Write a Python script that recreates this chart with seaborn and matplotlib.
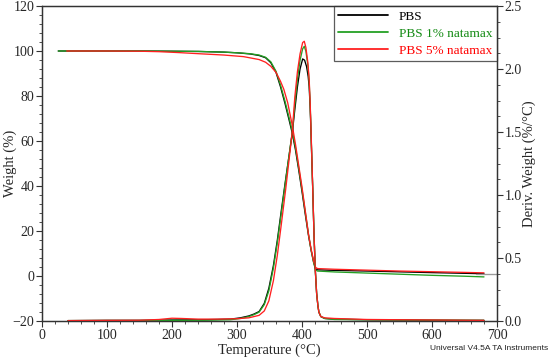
import numpy as np
import pandas as pd
import matplotlib
matplotlib.use("Agg")
import matplotlib.pyplot as plt
from matplotlib.ticker import MultipleLocator, FormatStrFormatter
from matplotlib.lines import Line2D
import seaborn as sns

# ---------------- data ----------------
labels = ["PBS", "PBS 1% natamax", "PBS 5% natamax"]

# Weight (%) curves
T_w_black = [25, 50, 100, 150, 200, 241, 280, 300, 320, 334, 344, 352, 360, 367, 374, 380, 385, 390, 395,
             400, 405, 410, 414, 418, 421, 424, 450, 500, 550, 600, 650, 680]
W_black = [100, 100, 100, 100, 99.9, 99.8, 99.5, 99.2, 98.7, 98.0, 97.0, 94.8, 90.5, 84.0, 76.5, 69.5, 63.5,
           56.0, 47.0, 37.5, 27.5, 18.0, 11.5, 6.0, 3.2, 2.75, 2.5, 2.2, 1.85, 1.5, 1.2, 1.0]

T_w_green = [25, 50, 100, 150, 200, 241, 280, 300, 320, 334, 344, 352, 360, 367, 374, 380, 385, 390, 395,
             400, 405, 410, 414, 418, 421, 424, 450, 500, 550, 600, 650, 680]
W_green = [100, 100, 100, 100, 99.9, 99.8, 99.5, 99.2, 98.8, 98.2, 97.2, 95.2, 91.0, 84.8, 77.5, 70.5, 64.5,
           57.0, 48.0, 38.5, 28.5, 18.5, 11.5, 5.8, 2.6, 2.2, 1.8, 1.3, 0.8, 0.3, -0.1, -0.4]

T_w_red = [38, 60, 100, 150, 180, 210, 241, 280, 310, 334, 344, 352, 360, 367, 372, 378, 385, 390, 395,
           400, 405, 410, 414, 418, 421, 424, 450, 500, 550, 600, 650, 680]
W_red = [100, 100, 100, 99.9, 99.7, 99.3, 98.8, 98.2, 97.5, 96.2, 95.0, 93.2, 90.5, 86.5, 83.0, 77.0, 67.0,
         58.5, 49.0, 39.5, 29.0, 18.5, 12.0, 6.5, 3.8, 3.3, 3.0, 2.6, 2.2, 1.9, 1.6, 1.4]

# Derivative weight (%/°C) curves
T_d_black = [40, 100, 150, 200, 250, 290, 305, 318, 326, 334, 342, 349, 356, 362, 368, 375, 385, 389, 393,
             397, 401, 404, 407, 409.5, 411, 412.5, 413.5, 415, 416.5, 418.5, 420.5, 422.5, 424.5, 426, 429,
             435, 450, 500, 550, 600, 650, 680]
D_black = [0.003, 0.005, 0.005, 0.008, 0.01, 0.015, 0.025, 0.04, 0.055, 0.075, 0.14, 0.26, 0.44, 0.64, 0.87,
           1.13, 1.49, 1.68, 1.86, 2.0, 2.08, 2.07, 2.02, 1.94, 1.86, 1.7, 1.55, 1.3, 1.05, 0.68, 0.4, 0.22,
           0.12, 0.07, 0.035, 0.02, 0.015, 0.01, 0.008, 0.006, 0.005, 0.005]

T_d_green = [40, 100, 150, 200, 250, 290, 305, 318, 326, 334, 342, 349, 356, 362, 368, 375, 385, 389, 393,
             397, 401, 403.5, 406, 409, 411, 412.5, 413.5, 415, 416.5, 418.5, 420.5, 422.5, 424.5, 426, 429,
             435, 450, 500, 550, 600, 650, 680]
D_green = [0.003, 0.004, 0.004, 0.005, 0.006, 0.01, 0.02, 0.035, 0.05, 0.07, 0.13, 0.24, 0.42, 0.62, 0.85,
           1.12, 1.5, 1.72, 1.92, 2.07, 2.16, 2.18, 2.14, 2.03, 1.9, 1.72, 1.57, 1.3, 1.05, 0.68, 0.4, 0.22,
           0.12, 0.07, 0.035, 0.02, 0.012, 0.01, 0.008, 0.007, 0.006, 0.005]

T_d_red = [40, 100, 150, 180, 200, 215, 240, 270, 300, 318, 334, 342, 349, 356, 362, 368, 375, 385, 389, 393,
           397, 401, 403.5, 406, 409, 411, 412.5, 413.5, 415, 416.5, 418.5, 420.5, 422.5, 424.5, 426, 429,
           435, 450, 500, 550, 600, 650, 680]
D_red = [0.003, 0.005, 0.006, 0.012, 0.022, 0.02, 0.015, 0.015, 0.018, 0.025, 0.045, 0.08, 0.16, 0.32, 0.52,
         0.76, 1.05, 1.5, 1.78, 1.98, 2.12, 2.21, 2.22, 2.17, 2.05, 1.92, 1.74, 1.58, 1.32, 1.05, 0.68, 0.4,
         0.22, 0.12, 0.07, 0.035, 0.025, 0.02, 0.012, 0.01, 0.008, 0.006, 0.005]

# residue reference segment (grey) at the right edge
T_ref = [667, 700]
W_ref = [1.0, 1.0]

line_colors = ["#000000", "#24a024", "#ff2020"]
text_colors = ["#000000", "#138a13", "#ff0000"]

# ---------------- plotting ----------------
sns.set_style("ticks")
plt.rcParams["font.family"] = ["Liberation Serif", "DejaVu Serif"]
plt.rcParams["mathtext.fontset"] = "stix"

fig = plt.figure(figsize=(5.5, 3.59), dpi=100)
ax = fig.add_axes([42 / 550, 1 - 321 / 359, (497 - 42) / 550, (321 - 6) / 359])
ax2 = ax.twinx()

weight_sets = [(T_w_black, W_black), (T_w_green, W_green), (T_w_red, W_red)]
deriv_sets = [(T_d_black, D_black), (T_d_green, D_green), (T_d_red, D_red)]

lw = 0.95
for (tx, wy), (td, dy), c in zip(weight_sets, deriv_sets, line_colors):
    sns.lineplot(x=tx, y=wy, ax=ax, color=c, lw=lw, sort=False, estimator=None)
    sns.lineplot(x=td, y=dy, ax=ax2, color=c, lw=lw, sort=False, estimator=None)

sns.lineplot(x=T_ref, y=W_ref, ax=ax, color="#9a9a9a", lw=lw, sort=False, estimator=None)

ax.set_xlim(0, 700)
ax.set_ylim(-20, 120)
ax2.set_ylim(0, 2.5)

ax.xaxis.set_major_locator(MultipleLocator(100))
ax.xaxis.set_minor_locator(MultipleLocator(20))
ax.yaxis.set_major_locator(MultipleLocator(20))
ax.yaxis.set_minor_locator(MultipleLocator(4))
ax2.yaxis.set_major_locator(MultipleLocator(0.5))
ax2.yaxis.set_minor_locator(MultipleLocator(0.125))
ax2.yaxis.set_major_formatter(FormatStrFormatter("%.1f"))

spine_c = "#333333"
for a in (ax, ax2):
    for s in a.spines.values():
        s.set_color(spine_c)
        s.set_linewidth(0.9)
    a.tick_params(which="major", length=4, width=0.8, color=spine_c, labelsize=10, pad=1.5)
    a.tick_params(which="minor", length=2, width=0.6, color=spine_c)

ax.set_xlabel("Temperature (°C)", fontsize=10.5, labelpad=1)
ax.set_ylabel("Weight (%)", fontsize=10.5)
ax2.set_ylabel("Deriv. Weight (%/°C)", fontsize=10.5)
ax.yaxis.set_label_coords((17 - 42) / 455, 0.5)
ax2.yaxis.set_label_coords((523 - 42) / 455, 0.5)

handles = [Line2D([0], [0], color=c, lw=1.3) for c in line_colors]
leg = ax.legend(handles, labels, loc="upper right", bbox_to_anchor=(1.0, 1.0), borderaxespad=0,
                frameon=True, fancybox=False, fontsize=9.5, handlelength=3.8, handletextpad=0.8,
                labelspacing=0.35, borderpad=0.35)
leg.get_frame().set_edgecolor("#333333")
leg.get_frame().set_linewidth(0.9)
for t, c in zip(leg.get_texts(), text_colors):
    t.set_color(c)

fig.text(548 / 550, 1 - 348 / 359, "Universal V4.5A TA Instruments", ha="right", va="center",
         fontsize=6, family=["Liberation Sans", "DejaVu Sans"], color="#222222")

fig.savefig("out.png", dpi=100)
